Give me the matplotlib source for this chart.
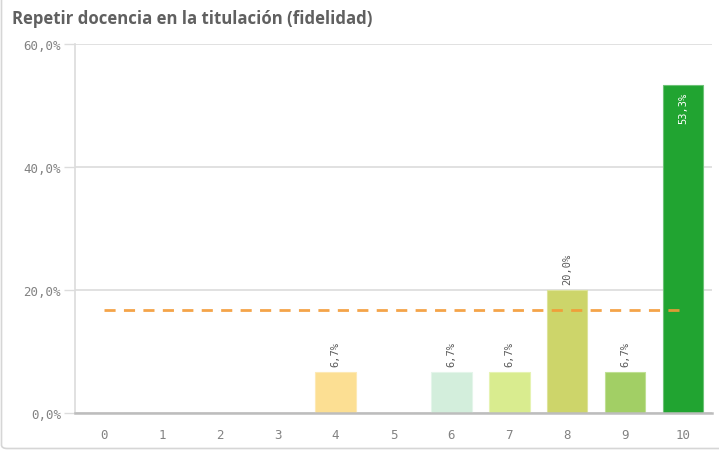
import matplotlib
matplotlib.use('Agg')
import matplotlib.pyplot as plt
from matplotlib.patches import FancyBboxPatch

# Score distribution (0-10) for "repeat teaching in the degree"
scores = list(range(11))
shares = [0, 0, 0, 0, 6.7, 0, 6.7, 6.7, 20.0, 6.7, 53.3]
bar_colors = ['#fcdf93', '#fcdf93', '#fcdf93', '#fcdf93', '#fcdf93', '#fcdf93',
              '#d3eedc', '#d9ec8f', '#cdd56a', '#a2cf65', '#21a431']
edge_colors = ['#fde9b5', '#fde9b5', '#fde9b5', '#fde9b5', '#fde9b5', '#fde9b5',
               '#e4f5ea', '#e6f3b3', '#dde39a', '#bfe093', '#6cc276']
reference_line = 16.7
y_ticks = [0, 20, 40, 60]

TEXT = '#595959'
TICK = '#828282'
GRID = '#dcdcdc'
MONO = 'DejaVu Sans Mono'


def pct(v):
    return f"{v:.1f}%".replace('.', ',')


fig = plt.figure(figsize=(7.19, 4.52), dpi=100)

# card frame (only left and bottom edges fall inside the image)
card = FancyBboxPatch((1.5 / 719, 2.5 / 452), 1.3, 1.3,
                      boxstyle='round,pad=0,rounding_size=0.008',
                      transform=fig.transFigure, facecolor='none',
                      edgecolor='#d6d6d6', linewidth=1.2, zorder=-1)
fig.patches.append(card)

fig.text(12 / 719, 1 - 19 / 452, 'Repetir docencia en la titulación (fidelidad)',
         fontsize=12.1, fontweight='bold', color='#606060', family='Open Sans',
         ha='left', va='center')

ax = fig.add_axes([75 / 719, 1 - 414 / 452, (712 - 75) / 719, (414 - 45) / 452])
ax.set_facecolor('none')

ax.bar(scores, shares, width=0.7, color=bar_colors, edgecolor=edge_colors,
       linewidth=0.8, zorder=3)

for x, v in zip(scores, shares):
    if v <= 0:
        continue
    if v > 40:
        ax.text(x, v - 1.0, pct(v), rotation=90, ha='center', va='top',
                fontsize=7.5, color='white', family=MONO, zorder=5)
    else:
        ax.text(x, v + 1.0, pct(v), rotation=90, ha='center', va='bottom',
                fontsize=7.5, color=TEXT, family=MONO, zorder=5)

ax.plot([scores[0], scores[-1]], [reference_line, reference_line],
        color='#f39a35', linestyle=(0, (4, 3)), linewidth=2, alpha=0.9, zorder=4)

ax.set_xlim(-0.5, 10.5)
ax.set_ylim(0, 60)
ax.set_xticks(scores)
ax.set_xticklabels([str(s) for s in scores], family=MONO, fontsize=9, color=TICK)
ax.set_yticks(y_ticks)
ax.set_yticklabels([pct(v) for v in y_ticks], family=MONO, fontsize=9, color=TICK)
ax.tick_params(axis='x', length=0, pad=11)
ax.tick_params(axis='y', length=8, width=1, color=GRID, pad=2)
ax.grid(axis='y', color=GRID, linewidth=1.2, zorder=0)

for side in ('top', 'right'):
    ax.spines[side].set_visible(False)
ax.spines['left'].set_color(GRID)
ax.spines['left'].set_linewidth(1.2)
ax.spines['bottom'].set_color('#bdbdbd')
ax.spines['bottom'].set_linewidth(1.8)
ax.spines['bottom'].set_zorder(4)

fig.savefig('out.png', dpi=100)
